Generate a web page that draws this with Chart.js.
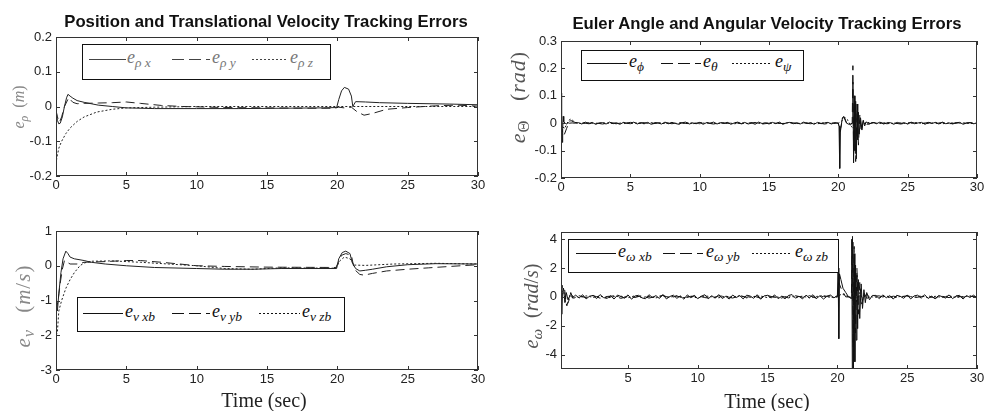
<!DOCTYPE html>
<html>
<head>
<meta charset="utf-8">
<script src="https://cdn.jsdelivr.net/npm/chart.js@4/dist/chart.umd.min.js"></script>
<style>
  body { margin: 0; background: #fff; }
  #page { position: relative; width: 984px; height: 411px; overflow: hidden; background: #fff; }
  canvas { position: absolute; }
  .title { position: absolute; font: bold 16.7px "Liberation Sans", Arial, sans-serif; color: #111;
           white-space: nowrap; transform: translate(-50%, -50%); }
  .ylab { position: absolute; font: 18px "Liberation Serif", serif; white-space: nowrap;
          transform: translate(-50%, -50%) rotate(-90deg); }
  .xlab { position: absolute; font: 20px "Liberation Serif", serif; color: #222; white-space: nowrap;
          transform: translate(-50%, -50%); }
  .legend { position: absolute; border: 1px solid #111; background: #fff; }
  .legend svg { position: absolute; left: 0; top: 0; }
  .lab { position: absolute; font: italic 18px "Liberation Serif", serif; line-height: 20px; white-space: nowrap; }
  sub { font-size: 75%; vertical-align: -4px; }
</style>
</head>
<body>
<div id="page">
  <canvas id="rho"></canvas>
  <canvas id="theta"></canvas>
  <canvas id="vel"></canvas>
  <canvas id="omega"></canvas>

  <div class="title" style="left:266px;top:22px;">Position and Translational Velocity Tracking Errors</div>
  <div class="title" style="left:767px;top:24px;">Euler Angle and Angular Velocity Tracking Errors</div>

  <div class="ylab" style="left:21px;top:107px;color:#888;font-size:16px;word-spacing:4px;"><i>e</i><sub><i>ρ</i></sub>&nbsp;(<i>m</i>)</div>
  <div class="ylab" style="left:519px;top:97px;color:#555;font-size:22px;word-spacing:12px;letter-spacing:1px;"><i>e</i><sub>Θ</sub> (<i>rad</i>)</div>
  <div class="ylab" style="left:24px;top:306px;color:#888;font-size:21px;word-spacing:10px;letter-spacing:1px;"><i>e</i><sub><i>v</i></sub> (<i>m</i>/<i>s</i>)</div>
  <div class="ylab" style="left:533px;top:306px;color:#555;font-size:20px;word-spacing:6px;"><i>e</i><sub><i>ω</i></sub> (<i>rad</i>/<i>s</i>)</div>

  <div class="xlab" style="left:264px;top:400px;">Time (sec)</div>
  <div class="xlab" style="left:767px;top:401px;">Time (sec)</div>

  <div class="legend" style="left:82px;top:44px;width:247px;height:34px;">
    <svg width="247" height="34">
      <line x1="6" y1="14.5" x2="43" y2="14.5" stroke="#444"/>
      <line x1="89" y1="14.5" x2="127" y2="14.5" stroke="#444" stroke-dasharray="12 5"/>
      <line x1="169" y1="14.5" x2="204" y2="14.5" stroke="#444" stroke-dasharray="2 2"/>
    </svg>
    <span class="lab" style="left:44px;top:2px;color:#777;">e<sub>ρ x</sub></span>
    <span class="lab" style="left:129px;top:2px;color:#777;">e<sub>ρ y</sub></span>
    <span class="lab" style="left:207px;top:2px;color:#777;">e<sub>ρ z</sub></span>
  </div>

  <div class="legend" style="left:581px;top:50px;width:221px;height:29px;">
    <svg width="221" height="29">
      <line x1="5" y1="12.5" x2="45" y2="12.5" stroke="#111"/>
      <line x1="79" y1="12.5" x2="119" y2="12.5" stroke="#111" stroke-dasharray="12 5"/>
      <line x1="150" y1="12.5" x2="190" y2="12.5" stroke="#111" stroke-dasharray="2 2"/>
    </svg>
    <span class="lab" style="left:47px;top:0px;color:#111;">e<sub>ϕ</sub></span>
    <span class="lab" style="left:121px;top:0px;color:#111;">e<sub>θ</sub></span>
    <span class="lab" style="left:193px;top:0px;color:#111;">e<sub>ψ</sub></span>
  </div>

  <div class="legend" style="left:77px;top:297px;width:266px;height:33px;">
    <svg width="266" height="33">
      <line x1="5" y1="15.5" x2="45" y2="15.5" stroke="#111"/>
      <line x1="94" y1="15.5" x2="132" y2="15.5" stroke="#111" stroke-dasharray="12 5"/>
      <line x1="181" y1="15.5" x2="222" y2="15.5" stroke="#111" stroke-dasharray="2 2"/>
    </svg>
    <span class="lab" style="left:47px;top:3px;color:#111;">e<sub>v xb</sub></span>
    <span class="lab" style="left:134px;top:3px;color:#111;">e<sub>v yb</sub></span>
    <span class="lab" style="left:224px;top:3px;color:#111;">e<sub>v zb</sub></span>
  </div>

  <div class="legend" style="left:568px;top:239px;width:269px;height:32px;">
    <svg width="269" height="32">
      <line x1="7" y1="13.5" x2="47" y2="13.5" stroke="#111"/>
      <line x1="94" y1="13.5" x2="134" y2="13.5" stroke="#111" stroke-dasharray="12 5"/>
      <line x1="183" y1="13.5" x2="223" y2="13.5" stroke="#111" stroke-dasharray="2 2"/>
    </svg>
    <span class="lab" style="left:49px;top:1px;color:#111;">e<sub>ω xb</sub></span>
    <span class="lab" style="left:137px;top:1px;color:#111;">e<sub>ω yb</sub></span>
    <span class="lab" style="left:226px;top:1px;color:#111;">e<sub>ω zb</sub></span>
  </div>
</div>

<script>
// tick labels
const timeTicks = [0, 5, 10, 15, 20, 25, 30];
const timeTicksNoZero = [5, 10, 15, 20, 25, 30];
const rhoTicks = [-0.2, -0.1, 0, 0.1, 0.2];
const thetaTicks = [-0.2, -0.1, 0, 0.1, 0.2, 0.3];
const velTicks = [-3, -2, -1, 0, 1];
const omegaTicks = [-4, -2, 0, 2, 4];

// ---- position errors (m) ----
const rhoXTime = [0, 0.1, 0.2, 0.3, 0.45, 0.6, 0.75, 0.85, 1.0, 1.2, 1.5, 2.0, 2.5, 3.0, 4.0, 5.0, 7.0, 10, 13, 16, 19, 19.95, 20.1, 20.3, 20.5, 20.8, 21.0, 21.1, 21.3, 22, 23, 25, 28, 30];
const rhoX = [-0.01, -0.04, -0.05, -0.048, -0.03, 0.0, 0.025, 0.035, 0.03, 0.024, 0.017, 0.012, 0.008, 0.004, 0.0, -0.004, -0.006, -0.006, -0.006, -0.005, -0.004, -0.003, 0.02, 0.045, 0.055, 0.05, 0.03, 0.0, 0.014, 0.013, 0.011, 0.009, 0.007, 0.005];
const rhoYTime = [0, 0.1, 0.25, 0.4, 0.6, 0.9, 1.2, 1.5, 2.0, 3.0, 4.0, 5.0, 6.0, 7.5, 9, 12, 15, 18, 19.8, 20.1, 20.5, 21.0, 21.4, 21.9, 22.5, 23.5, 25, 27, 28.5, 30];
const rhoY = [-0.01, -0.03, -0.045, -0.03, 0.0, 0.025, 0.012, 0.008, 0.009, 0.01, 0.011, 0.013, 0.009, 0.003, 0.0, -0.003, -0.004, -0.005, -0.005, -0.002, -0.004, -0.002, -0.015, -0.025, -0.02, -0.008, -0.003, 0.002, 0.004, 0.001];
const rhoZTime = [0.03, 0.1, 0.2, 0.4, 0.7, 1.0, 1.5, 2.0, 2.9, 4.0, 5.0, 7.0, 10, 15, 20, 25, 30];
const rhoZ = [-0.155, -0.14, -0.12, -0.1, -0.078, -0.062, -0.043, -0.03, -0.016, -0.008, -0.004, -0.002, 0.0, 0.0, 0.0, 0.0, 0.0];

// ---- velocity errors (m/s) ----
const vxTime = [0, 0.1, 0.2, 0.35, 0.5, 0.7, 0.85, 1.0, 1.3, 2.0, 2.5, 3.5, 5, 7, 10, 12, 14, 16, 19.95, 20.1, 20.35, 20.6, 20.9, 21.05, 21.3, 21.6, 22.0, 22.5, 23.5, 25, 27, 30];
const vx = [-1.0, -1.3, -0.8, -0.2, 0.2, 0.42, 0.35, 0.25, 0.2, 0.15, 0.1, 0.05, 0.0, -0.05, -0.08, -0.1, -0.1, -0.08, -0.08, 0.2, 0.38, 0.42, 0.35, 0.1, -0.08, -0.15, -0.13, -0.1, -0.03, 0.03, 0.06, 0.05];
const vyTime = [0, 0.15, 0.3, 0.45, 0.6, 0.8, 1.0, 1.5, 2.0, 3.5, 5, 6, 7.5, 8.8, 10, 12, 15, 19.9, 20.3, 20.6, 21.0, 21.2, 21.6, 21.9, 22.5, 23.5, 25, 26.5, 28, 30];
const vy = [-1.3, -1.0, -0.5, -0.1, 0.15, 0.1, 0.05, 0.05, 0.1, 0.12, 0.15, 0.15, 0.1, 0.05, 0.0, -0.02, -0.04, -0.05, 0.3, 0.35, 0.3, -0.1, -0.25, -0.27, -0.22, -0.15, -0.1, -0.06, -0.02, 0.03];
const vzTime = [0.02, 0.1, 0.2, 0.4, 0.7, 1.0, 1.3, 1.7, 2.0, 2.5, 4, 6, 8, 10, 12, 14, 16, 19.9, 20.2, 20.5, 20.9, 21.2, 22, 24, 27, 30];
const vz = [-2.0, -1.9, -1.3, -1.0, -0.65, -0.4, -0.2, 0.0, 0.08, 0.13, 0.14, 0.1, 0.05, 0.0, -0.08, -0.1, -0.06, -0.07, 0.15, 0.25, 0.2, 0.02, 0.01, 0.05, 0.07, 0.05];

// ---- Euler angle errors (rad) ----
// fast pieces are listed with their times, noisy stretches are sampled every dt
const phiStartTime = [0, 0.03, 0.06, 0.09, 0.12, 0.16, 0.2, 0.3, 0.4, 0.5, 0.6, 0.8, 1.0];
const phiStart = [0, 0.11, 0.02, -0.07, -0.02, 0.025, 0.005, 0.0, -0.003, 0.002, 0, 0.001, 0];
const phiNoise = [0.002, -0.003, 0.004, -0.001, 0.003, -0.004, 0.001, 0.002, -0.003, 0.004,
  -0.002, 0.001, -0.004, 0.003, 0.000, -0.002, 0.004, -0.003, 0.002, -0.001,
  0.003, -0.004, 0.002, 0.001, -0.003, 0.004, -0.002, 0.003, -0.001, -0.004,
  0.002, 0.004, -0.003, 0.001, -0.002, 0.003, -0.004, 0.002, 0.000, 0.004,
  -0.003, 0.002, -0.001, 0.003, -0.004, 0.001, 0.004, -0.002, 0.003, -0.003,
  0.001, -0.004, 0.004, -0.001, 0.002, -0.003, 0.003, -0.002, 0.004, -0.004,
  0.001, 0.003, -0.002, 0.002, -0.003, 0.004, -0.001, 0.002, -0.004, 0.003,
  -0.002, 0.001, 0.003, -0.003, 0.002];
const phiEventTime = [20.0, 20.05, 20.1, 20.15, 20.2, 20.3, 20.4, 20.5, 20.6, 20.8, 21.0, 21.05, 21.1, 21.15, 21.2, 21.25, 21.3, 21.35, 21.4, 21.45, 21.5, 21.6, 21.7, 21.8, 21.9, 22.0, 22.2];
const phiEvent = [0, -0.01, -0.165, -0.02, -0.01, 0.02, 0.025, 0.01, 0.0, -0.005, 0.0, 0.15, -0.145, 0.1, -0.1, 0.08, -0.13, 0.07, -0.06, 0.04, -0.04, 0.02, -0.025, 0.01, -0.01, 0.005, -0.004];
const phiTail = [0.003, -0.002, 0.004, -0.003, 0.001, 0.002, -0.004, 0.003, -0.001, 0.002,
  -0.003, 0.004, -0.002, 0.001, 0.003, -0.004, 0.002, -0.001, 0.003, -0.003,
  0.004, -0.002, 0.001, -0.003, 0.002, 0.003, -0.004, 0.001, 0.002, -0.002, 0.000];

const thetaStartTime = [0, 0.05, 0.15, 0.25, 0.4, 0.55, 0.7, 0.9, 1.2];
const thetaStart = [0, -0.02, -0.045, -0.04, -0.02, 0.0, 0.01, 0.005, 0];
const thetaNoise = [0.002, -0.002, 0.001, -0.003, 0.002, 0.000, -0.002, 0.003, -0.001, 0.002,
  -0.003, 0.001, 0.002, -0.002, 0.003, -0.001, -0.002, 0.002, 0.001, -0.003,
  0.002, -0.001, 0.003, -0.002, 0.001, 0.002, -0.003, 0.000, 0.002, -0.002,
  0.003, -0.001, 0.001, -0.002, 0.002, -0.003, 0.001];
const thetaEventTime = [20.0, 20.05, 20.15, 20.3, 20.45, 20.6, 20.8, 21.0, 21.05, 21.1, 21.15, 21.25, 21.35, 21.45, 21.55, 21.65, 21.8, 22.0, 22.5];
const thetaEvent = [0, -0.02, -0.03, 0.02, 0.02, 0.0, -0.01, 0.0, 0.21, -0.12, 0.06, -0.14, 0.05, -0.08, 0.03, -0.03, 0.01, -0.005, 0.002];
const thetaTail = [0.002, -0.002, 0.001, -0.003, 0.002, 0.001, -0.002, 0.003, -0.001, 0.002, -0.002, 0.001, -0.001, 0.002, 0.000];

const psiStartTime = [0, 0.1, 0.25, 0.4, 0.55, 0.7, 0.85, 1.0, 1.3];
const psiStart = [0, -0.01, -0.02, -0.005, 0.01, 0.015, 0.01, 0.003, 0];
const psiNoise = [-0.001, 0.002, -0.002, 0.001, 0.000, -0.002, 0.002, -0.001, 0.001, -0.002,
  0.002, 0.000, -0.001, 0.002, -0.002, 0.001, 0.001, -0.002, 0.002, -0.001,
  0.000, 0.002, -0.002, 0.001, -0.001, 0.002, -0.002, 0.001, 0.000, -0.001,
  0.002, -0.002, 0.001, 0.001, -0.002, 0.002, -0.001];
const psiEventTime = [20.0, 20.3, 20.5, 20.7, 20.9, 21.1, 21.3, 21.6, 22.0];
const psiEvent = [0, 0.01, 0.02, 0.01, -0.01, -0.02, 0.02, -0.01, 0.003];
const psiTail = [-0.001, 0.002, -0.001, 0.001, -0.002, 0.002, 0.000, -0.001, 0.002, -0.002, 0.001, 0.000, 0.001, -0.001, 0.000];

// ---- angular velocity errors (rad/s) ----
const wxStartTime = [0.2, 0.25, 0.3, 0.38, 0.48, 0.58, 0.7, 0.85, 1.0, 1.15];
const wxStart = [0.8, -1.2, 0.3, 0.6, -0.4, 0.3, -0.2, 0.1, -0.05, 0.05];
const wxNoise = [0.12, -0.08, 0.15, -0.14, 0.05, 0.10, -0.12, 0.16, -0.05, -0.10,
  0.08, -0.15, 0.13, 0.02, -0.09, 0.14, -0.16, 0.06, 0.11, -0.07,
  -0.13, 0.15, -0.04, 0.09, -0.11, 0.17, -0.14, 0.03, 0.12, -0.10,
  0.07, -0.16, 0.14, -0.06, 0.10, -0.12, 0.05, 0.15, -0.13, 0.08,
  -0.09, 0.16, -0.11, 0.04, -0.15, 0.13, -0.05, 0.09, -0.14, 0.12,
  0.06, -0.10, 0.15, -0.16, 0.07, 0.11, -0.08, 0.14, -0.12, 0.03,
  -0.13, 0.10, 0.16, -0.09, 0.05, -0.14, 0.12, -0.06, 0.15, -0.11,
  0.08, -0.15, 0.04, 0.13, -0.07];
const wxEventTime = [20.0, 20.05, 20.1, 20.15, 20.25, 20.4, 20.6, 20.8, 21.0, 21.03, 21.07, 21.11, 21.15, 21.2, 21.25, 21.3, 21.35, 21.4, 21.45, 21.5, 21.6, 21.7, 21.8, 21.9, 22.0, 22.1, 22.3, 22.5];
const wxEvent = [0.1, 2.0, -2.9, 1.6, 1.2, 0.6, 0.3, 0.0, -0.1, 4.0, -5.5, 3.8, -5.2, 3.0, -4.5, 2.2, -3.0, 1.5, -2.2, 1.2, -1.5, 0.9, -0.8, 0.5, -0.4, 0.3, -0.2, 0.1];
const wxTail = [0.10, -0.12, 0.14, -0.06, 0.09, -0.15, 0.11, 0.04, -0.10, 0.13,
  -0.14, 0.07, 0.12, -0.09, 0.15, -0.11, 0.05, -0.13, 0.10, 0.02,
  -0.08, 0.14, -0.12, 0.06, 0.11, -0.15, 0.09, -0.04, 0.12, -0.06];

const wyStartTime = [0.2, 0.3, 0.45, 0.6, 0.75, 0.9, 1.05, 1.2];
const wyStart = [0.2, 0.8, 0.6, -0.6, -0.3, 0.3, -0.1, 0.0];
const wyNoise = [0.08, -0.06, 0.10, -0.09, 0.03, 0.07, -0.10, 0.05, -0.04, 0.09,
  -0.08, 0.02, 0.10, -0.07, 0.06, -0.09, 0.04, 0.08, -0.05, -0.10,
  0.07, 0.03, -0.08, 0.09, -0.02, 0.06, -0.09, 0.10, -0.04, 0.05,
  -0.07, 0.08, -0.03, 0.09, -0.10, 0.04, 0.06];
const wyEventTime = [20.0, 20.1, 20.3, 20.6, 21.0, 21.08, 21.13, 21.2, 21.3, 21.4, 21.5, 21.6, 21.75, 21.9, 22.1, 22.5];
const wyEvent = [0, 1.0, 0.5, 0.0, 0.0, 4.2, -3.5, 3.5, -2.5, 2.0, -1.2, 1.0, -0.5, 0.3, -0.1, 0.05];
const wyTail = [0.07, -0.08, 0.05, -0.03, 0.09, -0.06, 0.02, 0.08, -0.09, 0.04, -0.05, 0.07, -0.02, 0.06, -0.04];

const wzStartTime = [0.2, 0.35, 0.5, 0.65, 0.8, 0.95, 1.1, 1.3];
const wzStart = [0.6, 0.7, -0.3, -0.6, 0.1, 0.2, -0.1, 0];
const wzNoise = [-0.05, 0.07, -0.03, 0.06, -0.08, 0.02, 0.05, -0.06, 0.08, -0.04,
  0.03, -0.07, 0.06, -0.02, 0.08, -0.05, 0.04, -0.08, 0.07, 0.01,
  -0.06, 0.05, -0.03, 0.08, -0.07, 0.02, 0.06, -0.05, 0.04, -0.08,
  0.07, -0.02, 0.05, -0.06, 0.03, 0.08, -0.04];
const wzEventTime = [20.0, 20.3, 20.6, 21.0, 21.2, 21.4, 21.6, 21.8, 22.0, 22.5];
const wzEvent = [0, 0.2, 0.1, -0.1, 0.6, -0.4, 0.3, -0.2, 0.1, 0.0];
const wzTail = [-0.04, 0.06, -0.07, 0.03, 0.05, -0.02, 0.07, -0.06, 0.04, -0.03, 0.08, -0.05, 0.02, 0.06, -0.03];

// sampling of the noisy stretches (s)
const fastStep = 0.25;
const slowStep = 0.5;

function pts(t, v) {
  return t.map((x, i) => ({x: x, y: v[i]}));
}

function sampled(t0, dt, v) {
  return v.map((y, i) => ({x: t0 + i * dt, y: y}));
}

const SOLID = [];
const DASHED = [9, 5];
const DOTTED = [2, 2];

function trace(data, dash, color) {
  return {
    data: data,
    borderColor: color,
    borderWidth: 1,
    borderDash: dash,
    pointRadius: 0,
    tension: 0,
    fill: false,
  };
}

// MATLAB style box with inward ticks on all four sides
const boxPlugin = {
  id: 'matlabBox',
  afterDatasetsDraw(chart) {
    const {ctx, chartArea: a, scales} = chart;
    ctx.save();
    ctx.strokeStyle = '#333';
    ctx.lineWidth = 1;
    ctx.setLineDash([]);
    ctx.strokeRect(a.left + 0.5, a.top + 0.5, a.right - a.left - 1, a.bottom - a.top - 1);
    ctx.beginPath();
    scales.x.ticks.forEach((t) => {
      const px = Math.round(scales.x.getPixelForValue(t.value)) + 0.5;
      ctx.moveTo(px, a.bottom); ctx.lineTo(px, a.bottom - 4);
      ctx.moveTo(px, a.top); ctx.lineTo(px, a.top + 4);
    });
    scales.y.ticks.forEach((t) => {
      const py = Math.round(scales.y.getPixelForValue(t.value)) + 0.5;
      ctx.moveTo(a.left, py); ctx.lineTo(a.left + 4, py);
      ctx.moveTo(a.right, py); ctx.lineTo(a.right - 4, py);
    });
    ctx.stroke();
    ctx.restore();
  },
};

const tickFont = {family: '"Liberation Sans", Arial, sans-serif', size: 13};

function makePlot(id, box, xMin, xTicks, yMin, yMax, yTicks, datasets) {
  const padL = 45;
  const padT = 12;
  const padR = 20;
  const padB = 22;
  const cv = document.getElementById(id);
  cv.width = box.w + padL + padR;
  cv.height = box.h + padT + padB;
  cv.style.left = (box.x - padL) + 'px';
  cv.style.top = (box.y - padT) + 'px';

  return new Chart(cv, {
    type: 'line',
    data: {datasets: datasets},
    options: {
      responsive: false,
      animation: false,
      events: [],
      layout: {padding: {left: 0, top: padT, right: padR, bottom: 0}},
      plugins: {legend: {display: false}, tooltip: {enabled: false}},
      scales: {
        x: {
          type: 'linear',
          min: xMin,
          max: 30,
          afterBuildTicks: (s) => { s.ticks = xTicks.map((v) => ({value: v})); },
          afterFit: (s) => { s.height = padB; },
          grid: {display: false, drawTicks: false, tickLength: 0},
          border: {display: false},
          ticks: {padding: 2, color: '#222', font: tickFont, maxRotation: 0, autoSkip: false,
            callback: (v) => String(v)},
        },
        y: {
          type: 'linear',
          min: yMin,
          max: yMax,
          afterBuildTicks: (s) => { s.ticks = yTicks.map((v) => ({value: v})); },
          afterFit: (s) => { s.width = padL; },
          grid: {display: false, drawTicks: false, tickLength: 0},
          border: {display: false},
          ticks: {padding: 4, color: '#222', font: tickFont, autoSkip: false,
            callback: (v) => String(v)},
        },
      },
    },
    plugins: [boxPlugin],
  });
}

const leftInk = '#222';
const rightInk = '#111';

makePlot('rho', {x: 56, y: 37, w: 422, h: 139}, 0, timeTicks, -0.2, 0.2, rhoTicks, [
  trace(pts(rhoXTime, rhoX), SOLID, leftInk),
  trace(pts(rhoYTime, rhoY), DASHED, leftInk),
  trace(pts(rhoZTime, rhoZ), DOTTED, leftInk),
]);

makePlot('vel', {x: 56, y: 231, w: 422, h: 139}, 0, timeTicks, -3, 1, velTicks, [
  trace(pts(vxTime, vx), SOLID, leftInk),
  trace(pts(vyTime, vy), DASHED, leftInk),
  trace(pts(vzTime, vz), DOTTED, leftInk),
]);

makePlot('theta', {x: 561, y: 41, w: 416, h: 137}, 0, timeTicks, -0.2, 0.3, thetaTicks, [
  trace(pts(phiStartTime, phiStart).concat(sampled(1.25, fastStep, phiNoise),
    pts(phiEventTime, phiEvent), sampled(22.5, fastStep, phiTail)), SOLID, rightInk),
  trace(pts(thetaStartTime, thetaStart).concat(sampled(1.5, slowStep, thetaNoise),
    pts(thetaEventTime, thetaEvent), sampled(23, slowStep, thetaTail)), DASHED, rightInk),
  trace(pts(psiStartTime, psiStart).concat(sampled(1.5, slowStep, psiNoise),
    pts(psiEventTime, psiEvent), sampled(23, slowStep, psiTail)), DOTTED, rightInk),
]);

makePlot('omega', {x: 561, y: 232, w: 416, h: 137}, 0.2, timeTicksNoZero, -5, 4.5, omegaTicks, [
  trace(pts(wxStartTime, wxStart).concat(sampled(1.25, fastStep, wxNoise),
    pts(wxEventTime, wxEvent), sampled(22.75, fastStep, wxTail)), SOLID, rightInk),
  trace(pts(wyStartTime, wyStart).concat(sampled(1.5, slowStep, wyNoise),
    pts(wyEventTime, wyEvent), sampled(23, slowStep, wyTail)), DASHED, rightInk),
  trace(pts(wzStartTime, wzStart).concat(sampled(1.5, slowStep, wzNoise),
    pts(wzEventTime, wzEvent), sampled(23, slowStep, wzTail)), DOTTED, rightInk),
]);
</script>
</body>
</html>
